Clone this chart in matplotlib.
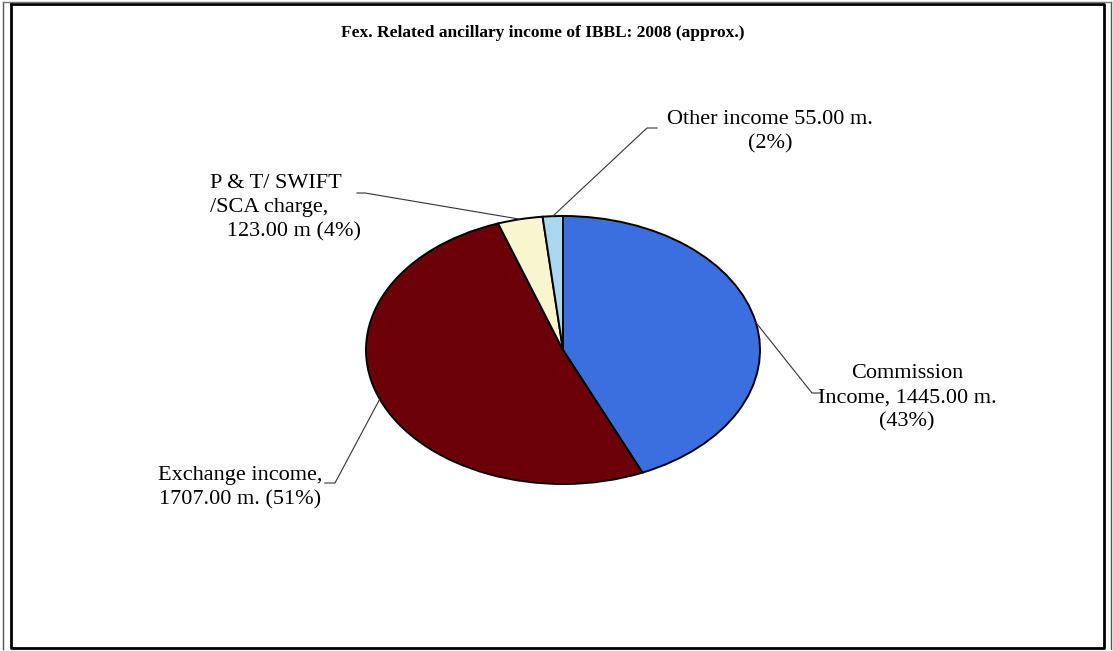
import numpy as np
import matplotlib.pyplot as plt

# data
labels = ["Commission\nIncome, 1445.00 m.\n(43%)",
          "Exchange income,\n1707.00 m. (51%)",
          "P & T/ SWIFT\n/SCA charge,\n   123.00 m (4%)",
          "Other income 55.00 m.\n(2%)"]
values = [1445.00, 1707.00, 123.00, 55.00]
colors = ["#3b6fe0", "#6b0008", "#f8f5cf", "#a9d8f0"]
title = "Fex. Related ancillary income of IBBL: 2008 (approx.)"

W, H = 1113, 651
plt.rcParams['font.family'] = ['Liberation Serif', 'DejaVu Serif']

fig = plt.figure(figsize=(W / 100, H / 100), dpi=100)

# ellipse box of the pie, in pixels (y down)
cx, cy, rx, ry = 563, 350, 197, 134
ax = fig.add_axes([(cx - rx) / W, (H - cy - ry) / H, 2 * rx / W, 2 * ry / H])
wedges, _ = ax.pie(values, colors=colors, startangle=90, counterclock=False,
                   wedgeprops=dict(edgecolor="black", linewidth=1.4))
ax.set_aspect('auto')
ax.set_xlim(-1, 1)
ax.set_ylim(-1, 1)

# overlay in pixel coordinates for frame, title and labels
ov = fig.add_axes([0, 0, 1, 1], zorder=-1)
ov.set_xlim(0, W)
ov.set_ylim(H, 0)
ov.axis('off')
ov.plot([11, 1104, 1104, 11, 11], [4, 4, 648, 648, 4], color="black", lw=2)
ov.plot([3, 3], [2, 649], color="#555555", lw=1)
ov.plot([1111, 1111], [2, 649], color="#555555", lw=1)
ov.plot([3, 1111], [2, 2], color="#777777", lw=1)

top = fig.add_axes([0, 0, 1, 1], zorder=5)
top.set_xlim(0, W)
top.set_ylim(H, 0)
top.axis('off')
top.patch.set_alpha(0)

top.text(543, 33, title, ha="center", va="center", fontsize=12.5, fontweight="bold")


def edge_point(w):
    a = np.deg2rad((w.theta1 + w.theta2) / 2)
    return cx + rx * np.cos(a), cy - ry * np.sin(a)


# (elbow point, end point, text pos, ha, multialign)
layout = [
    ((812, 393), (822, 393), (907, 398), "center", "center"),
    ((335, 483), (325, 483), (240, 488), "center", "center"),
    ((365, 193), (357, 193), (210, 208), "left", "left"),
    ((647, 128), (657, 128), (770, 132), "center", "center"),
]
for w, lab, (elb, end, tpos, ha, ma) in zip(wedges, labels, layout):
    px, py = edge_point(w)
    top.plot([px, elb[0], end[0]], [py, elb[1], end[1]], color="#333333", lw=0.8)
    top.text(tpos[0], tpos[1], lab, ha=ha, va="center", multialignment=ma,
             fontsize=16, linespacing=1.35)

fig.savefig("out.png", dpi=100)
